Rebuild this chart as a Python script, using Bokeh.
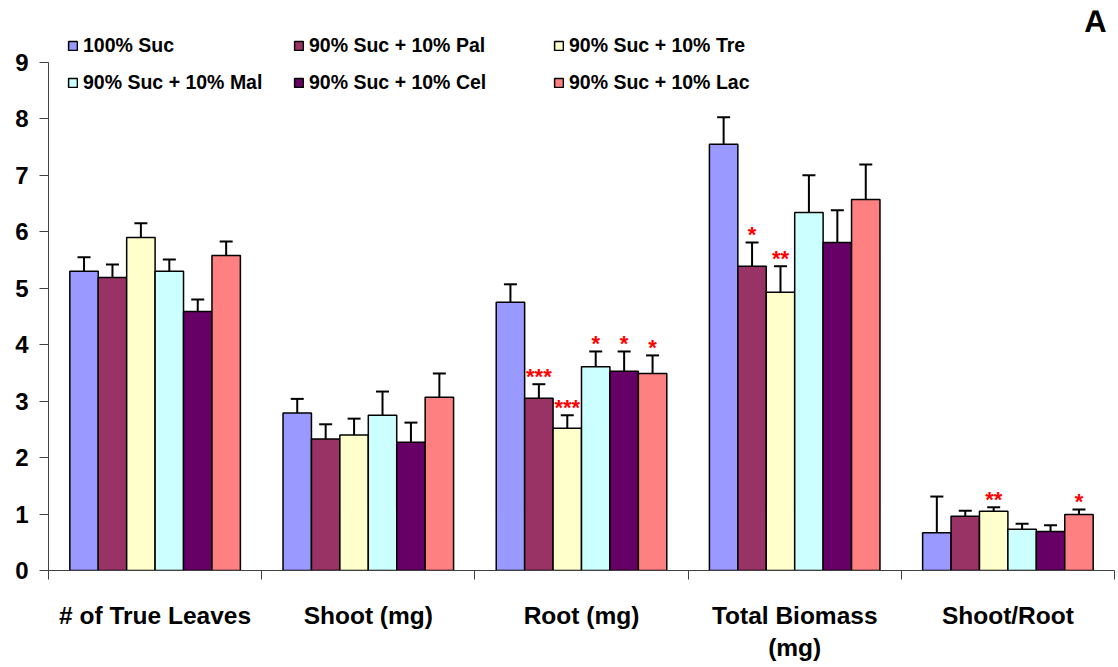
from bokeh.plotting import figure
from bokeh.models import (ColumnDataSource, Range1d, FixedTicker, Whisker, TeeHead,
                          Legend, LegendItem, Label)
from bokeh.core.properties import value
from bokeh.embed import file_html
from bokeh.resources import INLINE

# ---------------- data ----------------
groups = ["# of True Leaves", "Shoot (mg)", "Root (mg)", "Total Biomass\n(mg)", "Shoot/Root"]
series = ["100% Suc", "90% Suc + 10% Pal", "90% Suc + 10% Tre",
          "90% Suc + 10% Mal", "90% Suc + 10% Cel", "90% Suc + 10% Lac"]
colors = ["#9999FF", "#993366", "#FFFFCC", "#CCFFFF", "#660066", "#FF8080"]

suc = [5.30, 2.79, 4.75, 7.55, 0.67]
pal = [5.19, 2.33, 3.05, 5.39, 0.96]
tre = [5.90, 2.40, 2.52, 4.93, 1.05]
mal = [5.30, 2.75, 3.61, 6.34, 0.73]
cel = [4.59, 2.27, 3.53, 5.81, 0.69]
lac = [5.58, 3.07, 3.49, 6.57, 0.99]

suc_err = [0.25, 0.25, 0.32, 0.48, 0.64]
pal_err = [0.23, 0.26, 0.25, 0.42, 0.10]
tre_err = [0.25, 0.29, 0.23, 0.46, 0.07]
mal_err = [0.21, 0.42, 0.27, 0.66, 0.10]
cel_err = [0.21, 0.35, 0.35, 0.57, 0.11]
lac_err = [0.25, 0.42, 0.32, 0.62, 0.09]

means = [suc, pal, tre, mal, cel, lac]
errs = [suc_err, pal_err, tre_err, mal_err, cel_err, lac_err]

# significance marks: (group index, series index, text)
sig_group = [2, 2, 2, 2, 2, 3, 3, 4, 4]
sig_series = [1, 2, 3, 4, 5, 1, 2, 2, 5]
sig_text = ["***", "***", "*", "*", "*", "*", "**", "**", "*"]

# ---------------- figure ----------------
FONT = "Liberation Sans"
n_s = len(series)
bar_w = 0.8 / n_s

p = figure(width=1116, height=666, output_backend="svg", toolbar_location=None,
           x_range=Range1d(0, len(groups)), y_range=Range1d(0, 9.92),
           min_border_left=48, min_border_right=2, min_border_top=10, min_border_bottom=96)
p.outline_line_color = None
p.grid.grid_line_color = None
p.background_fill_color = "white"
p.border_fill_color = "white"

legend_items = []
for j in range(n_s):
    xs = [g + 0.5 + (j - (n_s - 1) / 2) * bar_w for g in range(len(groups))]
    tops = [m + e for m, e in zip(means[j], errs[j])]
    src = ColumnDataSource(dict(x=xs, top=means[j], up=tops))
    r = p.vbar(x="x", top="top", bottom=0, width=bar_w, source=src,
               fill_color=colors[j], line_color="black", line_width=1.5)
    legend_items.append(LegendItem(label=series[j], renderers=[r]))
    w = Whisker(base="x", lower="top", upper="up", source=src, dimension="height",
                line_color="black", line_width=2,
                upper_head=TeeHead(size=13, line_color="black", line_width=2),
                lower_head=None)
    p.add_layout(w)

# significance asterisks
sx, sy = [], []
for g, s in zip(sig_group, sig_series):
    sx.append(g + 0.5 + (s - (n_s - 1) / 2) * bar_w)
    sy.append(means[s][g] + errs[s][g])
p.text(x=sx, y=sy, text=sig_text, text_align="center", text_baseline="alphabetic",
       y_offset=-8, text_color="#FF0000", text_font=value(FONT),
       text_font_style="bold", text_font_size="22px")

# y axis
ya = p.yaxis[0]
ya.ticker = FixedTicker(ticks=list(range(0, 10)))
ya.bounds = (0, 9)
ya.axis_line_color = "#404040"
ya.major_tick_line_color = "#404040"
ya.major_tick_out = 9
ya.major_tick_in = 0
ya.minor_tick_line_color = None
ya.major_label_text_font = FONT
ya.major_label_text_font_style = "bold"
ya.major_label_text_font_size = "24px"
ya.major_label_text_color = "black"
ya.major_label_standoff = 11

# x axis
xa = p.xaxis[0]
centers = [g + 0.5 for g in range(len(groups))]
xa.ticker = FixedTicker(ticks=centers, minor_ticks=list(range(0, len(groups) + 1)))
xa.major_label_overrides = {c: g for c, g in zip(centers, groups)}
xa.axis_line_color = "#404040"
xa.major_tick_line_color = None
xa.major_tick_out = 0
xa.major_tick_in = 0
xa.minor_tick_line_color = "#404040"
xa.minor_tick_out = 9
xa.minor_tick_in = 0
xa.major_label_text_font = FONT
xa.major_label_text_font_style = "bold"
xa.major_label_text_font_size = "24.5px"
xa.major_label_text_color = "black"
xa.major_label_standoff = 22

# legends: three columns of two items
col_x = [19, 245, 505]
for c in range(3):
    items = [legend_items[c], legend_items[c + 3]]
    lg = Legend(items=items, location=(col_x[c], 476), orientation="vertical",
                background_fill_alpha=0, border_line_color=None,
                label_text_font=FONT, label_text_font_style="bold",
                label_text_font_size="19.5px", label_text_color="black",
                glyph_width=11, glyph_height=11, label_height=20,
                label_standoff=5, spacing=14, padding=0, margin=0)
    p.add_layout(lg, "center")

p.add_layout(Label(x=1047, y=532, x_units="screen", y_units="screen", text="A",
                   text_font=FONT, text_font_style="bold", text_font_size="31px",
                   text_color="black", text_align="center", text_baseline="bottom"))

open("out.html", "w").write(file_html(p, INLINE))
